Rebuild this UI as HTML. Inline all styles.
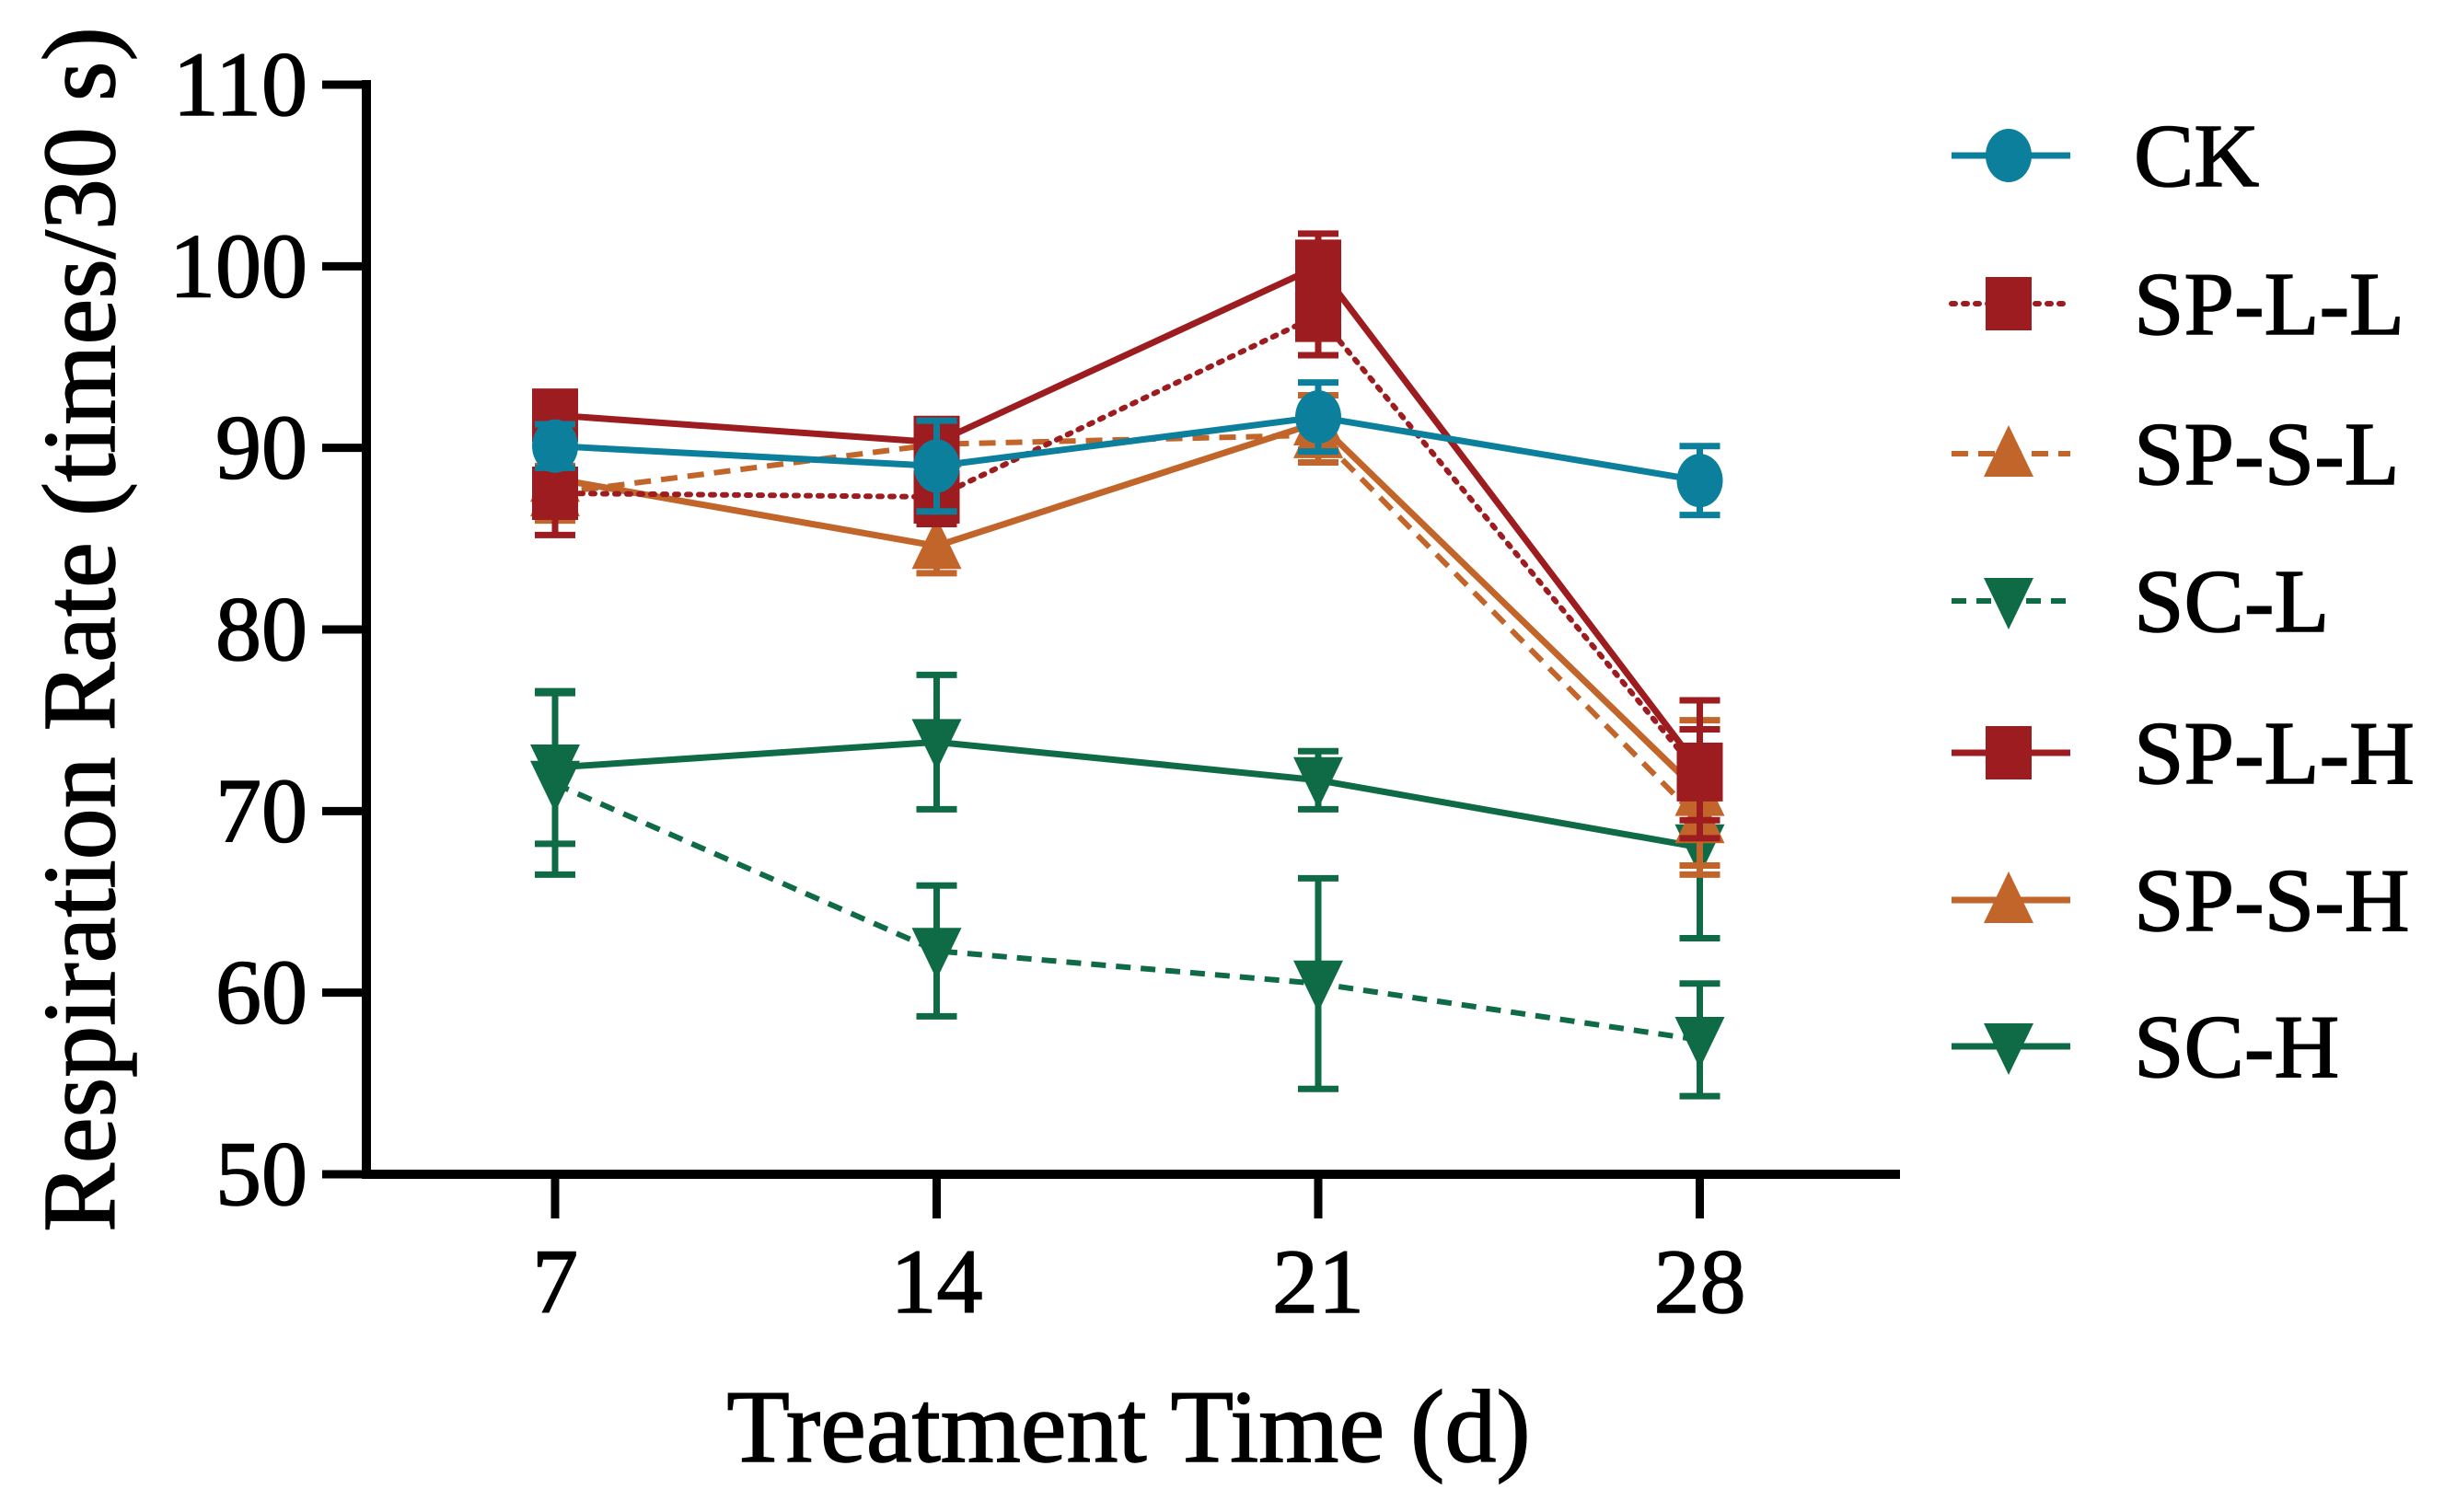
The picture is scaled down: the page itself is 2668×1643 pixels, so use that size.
<!DOCTYPE html>
<html><head><meta charset="utf-8"><style>
html,body{margin:0;padding:0;background:#fff;}
svg{display:block;font-family:"Liberation Serif",serif;}
</style></head><body>
<svg id="chart" width="2668" height="1643" viewBox="0 0 2668 1643" xmlns="http://www.w3.org/2000/svg">
<g id="axes"></g>
<g id="series"></g>
<g id="legend"></g>
<text x="0" y="0" transform="translate(124,684) rotate(-90)" text-anchor="middle" font-size="112" stroke="#000" stroke-width="1.5">Respiration Rate (times/30 s)</text>
<text x="1226" y="1588" text-anchor="middle" font-size="112" stroke="#000" stroke-width="1.5">Treatment Time (d)</text>
</svg>
<script>
const categories = ["7","14","21","28"];
const yTicks = [50,60,70,80,90,100,110];
const seriesNames = ["CK","SP-L-L","SP-S-L","SC-L","SP-L-H","SP-S-H","SC-H"];
const ckVals = [90.1,89.0,91.7,88.2];
const ckErr = [1.2,2.5,1.9,1.9];
const spllVals = [87.5,87.3,97.3,72.0];
const spllErr = [2.3,1.5,2.2,2.5];
const spslVals = [87.5,90.2,90.7,69.5];
const spslErr = [1.5,1.3,1.5,3.0];
const sclVals = [71.5,62.3,60.5,57.4];
const sclErr = [5.0,3.6,5.8,3.1];
const splhVals = [91.8,90.3,100.0,72.3];
const splhErr = [1.0,1.0,1.8,3.8];
const spshVals = [88.3,84.6,91.4,71.0];
const spshErr = [1.5,1.5,1.5,4.0];
const schVals = [72.4,73.8,71.7,68.0];
const schErr = [4.2,3.7,1.6,5.0];

const NS="http://www.w3.org/2000/svg";
const X0=398, XEND=2064, Y0=1276, YTOP=92;
function xPos(i){return 603+i*414.5;}
function yPos(v){return Y0-(v-50)*(Y0-YTOP)/60;}
function mk(tag,attrs,parent){const e=document.createElementNS(NS,tag);for(const k in attrs)e.setAttribute(k,attrs[k]);parent.appendChild(e);return e;}

const axes=document.getElementById('axes');
let yl=mk('line',{x1:X0,y1:YTOP-5,x2:X0,y2:Y0+5,stroke:'#000','stroke-width':10},axes);


let xl=mk('line',{x1:X0-5,y1:Y0,x2:XEND,y2:Y0,stroke:'#000','stroke-width':10},axes);


yTicks.forEach(t=>{
  const y=yPos(t);
  const l=mk('line',{x1:350,y1:y,x2:X0,y2:y,stroke:'#000','stroke-width':9},axes);
  
  
  const tx=mk('text',{x:334,y:y+33,'text-anchor':'end','font-size':100,stroke:'#000','stroke-width':1.5},axes);
  tx.textContent=t;
  
  
});
categories.forEach((c,i)=>{
  const x=xPos(i);
  const l=mk('line',{x1:x,y1:Y0,x2:x,y2:Y0+48,stroke:'#000','stroke-width':9},axes);
  
  
  const tx=mk('text',{x:x,y:1426,'text-anchor':'middle','font-size':100,stroke:'#000','stroke-width':1.5},axes);
  tx.textContent=c;
  
  
});

const C={ck:'#0b7f9c',red:'#9c1c20',org:'#c2652a',grn:'#0e6b45'};
const defs=[
 {name:'SC-L',vals:sclVals,err:sclErr,color:C.grn,dash:'16 11',marker:'down'},
 {name:'SC-H',vals:schVals,err:schErr,color:C.grn,dash:'',marker:'down'},
 {name:'SP-S-L',vals:spslVals,err:spslErr,color:C.org,dash:'18 11',marker:'up'},
 {name:'SP-S-H',vals:spshVals,err:spshErr,color:C.org,dash:'',marker:'up'},
 {name:'SP-L-L',vals:spllVals,err:spllErr,color:C.red,dash:'4 9',marker:'sq'},
 {name:'SP-L-H',vals:splhVals,err:splhErr,color:C.red,dash:'',marker:'sq'},
 {name:'CK',vals:ckVals,err:ckErr,color:C.ck,dash:'',marker:'circle'}
];
function marker(type,x,y,color,parent){
  let e;
  if(type==='circle') e=mk('ellipse',{cx:x,cy:y,rx:25,ry:29,fill:color},parent);
  else if(type==='sq') e=mk('rect',{x:x-25,y:y-29,width:50,height:58,fill:color},parent);
  else if(type==='up') e=mk('polygon',{points:`${x},${y-31} ${x+27},${y+25} ${x-27},${y+25}`,fill:color},parent);
  else e=mk('polygon',{points:`${x},${y+31} ${x+27},${y-25} ${x-27},${y-25}`,fill:color},parent);
  return e;
}
const sg=document.getElementById('series');
defs.forEach(s=>{
  const g=mk('g',{},sg);
  
  
  const pts=s.vals.map((v,i)=>xPos(i)+','+yPos(v)).join(' ');
  const pl=mk('polyline',{points:pts,fill:'none',stroke:s.color,'stroke-width':s.dash?6:7,'stroke-dasharray':s.dash||'none','stroke-linecap':s.dash==='4 9'?'round':'butt'},g);
  
  
  s.vals.forEach((v,i)=>{
    const x=xPos(i),yt=yPos(v+s.err[i]),yb=yPos(v-s.err[i]);
    const eb=mk('path',{d:`M${x},${yt}V${yb}M${x-22},${yt}H${x+22}M${x-22},${yb}H${x+22}`,stroke:s.color,'stroke-width':7,fill:'none'},g);
    
    
    const m=marker(s.marker,x,yPos(v),s.color,g);
    
    
  });
});

const lg=document.getElementById('legend');
const legY=[169,330,493,653,818,978,1137];
seriesNames.forEach((n,k)=>{
  const s=defs.find(d=>d.name===n);
  const g=mk('g',{},lg);
  
  
  const y=legY[k];
  mk('line',{x1:2120,y1:y,x2:2249,y2:y,stroke:s.color,'stroke-width':s.dash?6:7,'stroke-dasharray':s.dash||'none','stroke-linecap':s.dash==='4 9'?'round':'butt'},g);
  marker(s.marker,2182,y,s.color,g);
  const t=mk('text',{x:2318,y:y+33,'font-size':98,stroke:'#000','stroke-width':1.5,textLength:n.length*0,}, g);
  t.removeAttribute('textLength');
  t.textContent=n;
});
</script>
</body></html>
